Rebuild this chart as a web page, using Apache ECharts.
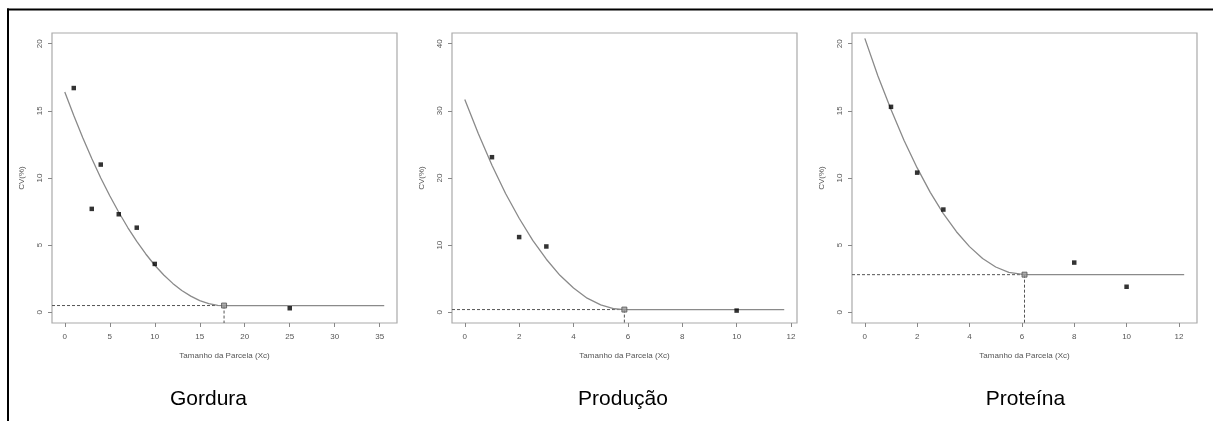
<!DOCTYPE html>
<html>
<head>
<meta charset="utf-8">
<script src="https://cdn.jsdelivr.net/npm/echarts@6/dist/echarts.min.js"></script>
<style>html,body{margin:0;padding:0;background:#fff;}#c{width:1213px;height:421px;}</style>
</head>
<body>
<div id="c"></div>
<script>
// ---- data ----
var titles = ['Gordura', 'Produção', 'Proteína'];
var xTicks1 = [0, 5, 10, 15, 20, 25, 30, 35];
var xTicks2 = [0, 2, 4, 6, 8, 10, 12];
var xTicks3 = [0, 2, 4, 6, 8, 10, 12];
var yTicks1 = [0, 5, 10, 15, 20];
var yTicks2 = [0, 10, 20, 30, 40];
var yTicks3 = [0, 5, 10, 15, 20];

var obs1 = [[1, 16.7], [3, 7.7], [4, 11.0], [6, 7.3], [8, 6.3], [10, 3.6], [25, 0.3]];
var obs2 = [[1, 23.1], [2, 11.2], [3, 9.8], [10, 0.25]];
var obs3 = [[1, 15.3], [2, 10.4], [3, 7.65], [8, 3.7], [10, 1.9]];

var plateau1 = [17.7, 0.5];
var plateau2 = [5.87, 0.4];
var plateau3 = [6.1, 2.8];

var curve1 = [[0, 16.4], [1, 14.65], [2, 13.0], [3, 11.45], [4, 10.0], [5, 8.68], [6, 7.45], [7, 6.31], [8, 5.28], [9, 4.34], [10, 3.5], [11, 2.78], [12, 2.15], [13, 1.62], [14, 1.2], [15, 0.87], [16, 0.65], [17, 0.52], [17.7, 0.5], [35.5, 0.5]];
var curve2 = [[0, 31.7], [0.5, 26.6], [1, 21.9], [1.5, 17.7], [2, 14.0], [2.5, 10.7], [3, 7.9], [3.5, 5.5], [4, 3.6], [4.5, 2.1], [5, 1.1], [5.5, 0.52], [5.87, 0.4], [11.75, 0.4]];
var curve3 = [[0, 20.4], [0.5, 17.6], [1, 15.1], [1.5, 12.8], [2, 10.75], [2.5, 8.93], [3, 7.35], [3.5, 6.0], [4, 4.89], [4.5, 4.0], [5, 3.37], [5.5, 2.97], [6.1, 2.8], [12.2, 2.8]];

var xRange1 = [-1.42, 36.92], yRange1 = [-0.8, 20.8];
var xRange2 = [-0.47, 12.22], yRange2 = [-1.6, 41.6];
var xRange3 = [-0.49, 12.69], yRange3 = [-0.8, 20.8];

// ---- build ----
var panels = [
  {obs: obs1, pl: plateau1, curve: curve1, xr: xRange1, yr: yRange1, xt: xTicks1, yt: yTicks1, left: 52},
  {obs: obs2, pl: plateau2, curve: curve2, xr: xRange2, yr: yRange2, xt: xTicks2, yt: yTicks2, left: 452},
  {obs: obs3, pl: plateau3, curve: curve3, xr: xRange3, yr: yRange3, xt: xTicks3, yt: yTicks3, left: 852}
];
var titleX = [208.5, 623, 1025.5];

var grids = [], xAxes = [], yAxes = [], series = [];
var labelColor = '#555', boxColor = '#aaa', tickColor = '#888';
var font = 'Liberation Sans, Arial';
panels.forEach(function (p, i) {
  grids.push({left: p.left, top: 33, width: 345, height: 290, show: true, borderColor: boxColor, borderWidth: 1.2, backgroundColor: 'transparent'});
  xAxes.push({
    type: 'value', gridIndex: i, min: p.xr[0], max: p.xr[1], position: 'bottom',
    name: 'Tamanho da Parcela (Xc)', nameLocation: 'middle', nameGap: 29,
    nameTextStyle: {fontFamily: font, fontSize: 8, color: labelColor},
    axisLine: {show: false, onZero: false}, splitLine: {show: false},
    axisTick: {show: true, inside: false, length: 4, lineStyle: {color: tickColor}, customValues: p.xt},
    axisLabel: {fontFamily: font, fontSize: 8, color: labelColor, margin: 10, customValues: p.xt}
  });
  yAxes.push({
    type: 'value', gridIndex: i, min: p.yr[0], max: p.yr[1], position: 'left',
    name: 'CV(%)', nameLocation: 'middle', nameGap: 26, nameRotate: 90,
    nameTextStyle: {fontFamily: font, fontSize: 8, color: labelColor},
    axisLine: {show: false, onZero: false}, splitLine: {show: false},
    axisTick: {show: true, inside: false, length: 4, lineStyle: {color: tickColor}, customValues: p.yt},
    axisLabel: {fontFamily: font, fontSize: 8, color: labelColor, margin: 8, rotate: 90, customValues: p.yt}
  });
  series.push({
    type: 'line', xAxisIndex: i, yAxisIndex: i, data: p.curve, smooth: false,
    showSymbol: false, lineStyle: {color: '#8a8a8a', width: 1.3}, silent: true, z: 2
  });
  series.push({
    type: 'line', xAxisIndex: i, yAxisIndex: i, data: [[p.xr[0], p.pl[1]], [p.pl[0], p.pl[1]]],
    showSymbol: false, lineStyle: {color: '#555', width: 1, type: [3, 2]}, silent: true, z: 1
  });
  series.push({
    type: 'line', xAxisIndex: i, yAxisIndex: i, data: [[p.pl[0], p.pl[1]], [p.pl[0], p.yr[0]]],
    showSymbol: false, lineStyle: {color: '#555', width: 1, type: [3, 2]}, silent: true, z: 1
  });
  series.push({
    type: 'scatter', xAxisIndex: i, yAxisIndex: i, data: p.obs, symbol: 'rect', symbolSize: 4.5,
    itemStyle: {color: '#000'}, z: 4
  });
  series.push({
    type: 'scatter', xAxisIndex: i, yAxisIndex: i, data: [p.pl], symbol: 'rect', symbolSize: 5,
    itemStyle: {color: '#999', borderColor: '#555', borderWidth: 1}, z: 4
  });
});

var graphics = [
  {type: 'line', shape: {x1: 7, y1: 9.5, x2: 1213, y2: 9.5}, style: {stroke: '#000', lineWidth: 2}},
  {type: 'line', shape: {x1: 8, y1: 8.5, x2: 8, y2: 421}, style: {stroke: '#000', lineWidth: 2}}
];
titles.forEach(function (t, i) {
  graphics.push({type: 'text', x: titleX[i], y: 399, style: {text: t, fontFamily: font, fontSize: 21, fill: '#000', align: 'center', verticalAlign: 'middle'}});
});

var chart = echarts.init(document.getElementById('c'), null, {renderer: 'canvas'});
chart.setOption({
  animation: false,
  backgroundColor: '#fff',
  grid: grids, xAxis: xAxes, yAxis: yAxes, series: series,
  graphic: graphics
});
</script>
</body>
</html>
